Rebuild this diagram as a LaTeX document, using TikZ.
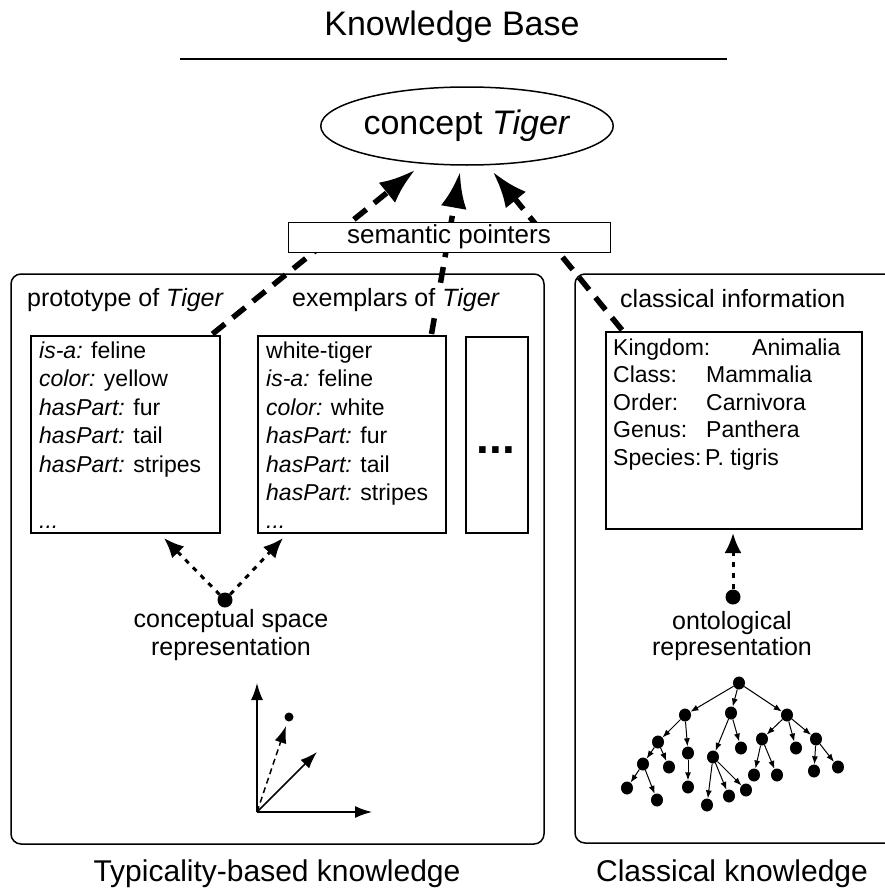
\documentclass[tikz,border=0pt]{standalone}
\usepackage{fontspec}
\setmainfont{Liberation Sans}
\usetikzlibrary{arrows.meta,shapes.geometric,calc}
\begin{document}
\begin{tikzpicture}[x=1pt,y=-1pt,
  box/.style={draw, line width=1.5pt, rectangle, inner sep=0pt, anchor=north west},
  bigbox/.style={draw, line width=1.5pt, rounded corners=10pt},
  ln/.style={anchor=base west, inner sep=0pt, font=\fontsize{23}{28}\selectfont},
  lbl/.style={inner sep=0pt, anchor=base, font=\fontsize{25}{28}\selectfont},
  sem/.style={line width=5.5pt, dash pattern=on 16pt off 10pt, -{Latex[length=36pt,width=26pt]}},
  dotarr/.style={line width=3pt, dash pattern=on 5pt off 6pt, -{Latex[length=20pt,width=17pt]}},
  dotnode/.style={circle, fill, inner sep=0pt, minimum size=15pt},
  tn/.style={ellipse, fill, inner sep=0pt, minimum width=12pt, minimum height=13pt},
  te/.style={line width=1pt, -{Latex[length=8pt,width=6pt]}},
  vec/.style={line width=1.5pt, -{Latex[length=17pt,width=12pt]}},
]
\useasboundingbox (0,0) rectangle (885,891);
\clip (0,0) rectangle (885,891);

% title
\node[anchor=base, inner sep=0pt, font=\fontsize{34}{40}\selectfont] (title) at (452,36) {Knowledge Base};
\draw[line width=2pt] (180,59) -- (727,59);

% concept
\node[ellipse, draw, line width=1.5pt, minimum width=285pt, minimum height=78pt, inner sep=0pt,
      font=\fontsize{34}{40}\selectfont] (concept) at (467,126) {concept \textit{Tiger}};

% big containers
\draw[bigbox] (11,274) rectangle (544,844);
\draw[bigbox] (575,274) rectangle (920,843);

% inner boxes
\node[box, minimum width=189pt, minimum height=197pt] (proto) at (30,335) {};
\node[box, minimum width=188pt, minimum height=197pt] (exem) at (257,335) {};
\node[box, minimum width=62pt, minimum height=196pt] (more) at (465,336) {};
\node[box, minimum width=256pt, minimum height=197pt] (cls) at (605,331) {};

\node[anchor=base, inner sep=0pt, font=\bfseries\fontsize{46}{46}\selectfont] (moredots) at (496,453) {...};

% prototype lines
\node[ln] (p1) at (39,358) {\textit{is-a:} feline};
\node[ln] (p2) at (39,386.5) {\textit{color:} yellow};
\node[ln] (p3) at (39,415) {\textit{hasPart:} fur};
\node[ln] (p4) at (39,443.5) {\textit{hasPart:} tail};
\node[ln] (p5) at (39,472) {\textit{hasPart:} stripes};
\node[ln] (p6) at (39,528) {\textit{...}};

% exemplar lines
\node[ln] (e1) at (266,358) {white-tiger};
\node[ln] (e2) at (266,386.5) {\textit{is-a:} feline};
\node[ln] (e3) at (266,415) {\textit{color:} white};
\node[ln] (e4) at (266,443.5) {\textit{hasPart:} fur};
\node[ln] (e5) at (266,472) {\textit{hasPart:} tail};
\node[ln] (e6) at (266,500.5) {\textit{hasPart:} stripes};
\node[ln] (e7) at (266,528) {\textit{...}};

% classical lines
\node[ln] (k1) at (613,355) {Kingdom:};
\node[ln] (v1) at (752,355) {Animalia};
\node[ln] (k2) at (613,382.5) {Class:};
\node[ln] (v2) at (706,382.5) {Mammalia};
\node[ln] (k3) at (613,410) {Order:};
\node[ln] (v3) at (706,410) {Carnivora};
\node[ln] (k4) at (613,437.5) {Genus:};
\node[ln] (v4) at (706,437.5) {Panthera};
\node[ln] (k5) at (613,465) {Species:};
\node[ln] (v5) at (705,465) {P. tigris};

% semantic pointer arrows
\coordinate (t1) at (415,170);
\coordinate (t2) at (460,172);
\coordinate (t3) at (493,172);
\draw[sem] ($(proto.north east)+(-8,-1)$) -- (t1);
\draw[sem] ($(exem.north east)+(-15,-1)$) -- (t2);
\draw[sem] ($(cls.north west)+(17,-1)$) -- (t3);

\node[draw, fill=white, line width=1pt, minimum width=322pt, minimum height=30pt, inner sep=0pt,
      font=\fontsize{26}{28}\selectfont] (sp) at (449,237) {semantic pointers};

% section labels (white background, drawn over the pointers)
\node[inner sep=0pt, anchor=base west, font=\fontsize{25}{28}\selectfont] (lproto) at (27,306) {prototype of \textit{Tiger}};
\node[inner xsep=2pt, inner ysep=4pt, fill=white, anchor=base west, font=\fontsize{25}{28}\selectfont] (lexem) at (290,306) {exemplars of \textit{Tiger}};
\node[inner sep=0pt, anchor=base west, font=\fontsize{25}{28}\selectfont] (lclass) at (620,307) {classical information};

% conceptual space
\node[dotnode] (cdot) at (225,600) {};
\coordinate (ca) at (164,538);
\coordinate (cb) at (283,538);
\draw[dotarr] (cdot) -- (ca);
\draw[dotarr] (cdot) -- (cb);
\node[lbl] (cs1) at (231,627) {conceptual space};
\node[lbl] (cs2) at (231,655) {representation};

% ontological
\node[dotnode] (odot) at (733,597) {};
\coordinate (oa) at (733,533);
\draw[dotarr] (odot) -- (oa);
\node[lbl] (on1) at (732,629) {ontological};
\node[lbl] (on2) at (732,655) {representation};

% vector space
\coordinate (o) at (257,812);
\coordinate (vy) at (257,683);
\coordinate (vx) at (372,812);
\coordinate (vs) at (317,752);
\coordinate (vd) at (286,726);
\node[circle, fill, inner sep=0pt, minimum size=9pt] (pt) at (289,717) {};
\draw[vec] (o) -- (vy);
\draw[vec] (o) -- (vx);
\draw[vec] (o) -- (vs);
\draw[vec, dash pattern=on 6pt off 4pt] (o) -- (vd);

% ontology tree
\node[tn] (r) at (739,683) {};
\node[tn] (a) at (685,715) {};
\node[tn] (b) at (731,713) {};
\node[tn] (c) at (787,715) {};
\node[tn] (a1) at (658,742) {};
\node[tn] (a2) at (688,753) {};
\node[tn] (b1) at (713,757) {};
\node[tn] (b2) at (741,748) {};
\node[tn] (c1) at (762,739) {};
\node[tn] (c2) at (796,748) {};
\node[tn] (c3) at (816,739) {};
\node[tn] (a11) at (643,764) {};
\node[tn] (a12) at (669,767) {};
\node[tn] (a21) at (688,787) {};
\node[tn] (b11) at (707,805) {};
\node[tn] (b12) at (729,796) {};
\node[tn] (b13) at (746,790) {};
\node[tn] (c11) at (754,775) {};
\node[tn] (c12) at (777,775) {};
\node[tn] (c31) at (814,771) {};
\node[tn] (c32) at (838,767) {};
\node[tn] (a111) at (627,788) {};
\node[tn] (a112) at (657,800) {};
\foreach \p/\c in {r/a,r/b,r/c,a/a1,a/a2,b/b1,b/b2,c/c1,c/c2,c/c3,a1/a11,a1/a12,a2/a21,b1/b11,b1/b12,b1/b13,c1/c11,c1/c12,c3/c31,c3/c32,a11/a111,a11/a112}
  \draw[te] (\p) -- (\c);

% bottom labels
\node[anchor=base, inner sep=0pt, font=\fontsize{30}{34}\selectfont] (typ) at (277,881) {Typicality-based knowledge};
\node[anchor=base, inner sep=0pt, font=\fontsize{30}{34}\selectfont] (clk) at (732,881) {Classical knowledge};
\end{tikzpicture}
\end{document}
